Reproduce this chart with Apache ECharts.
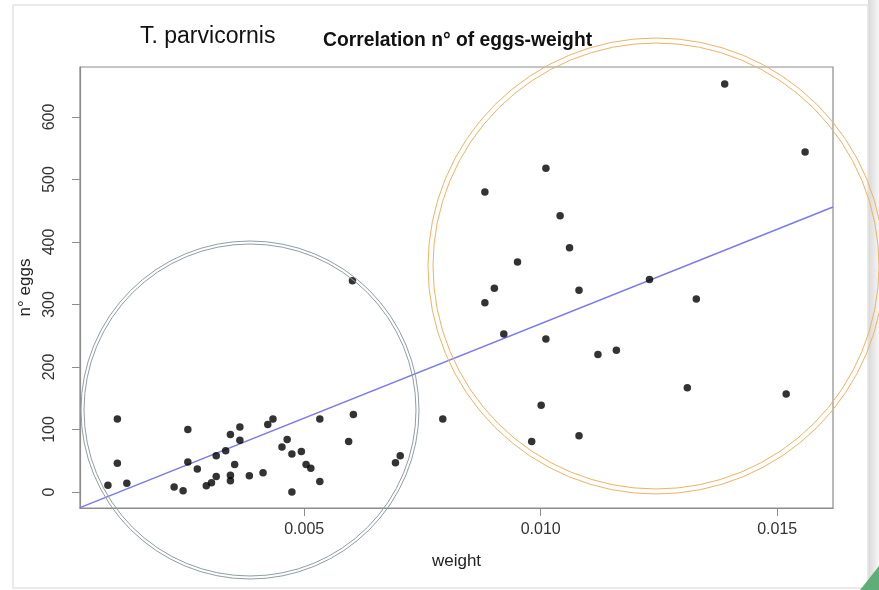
<!DOCTYPE html>
<html><head><meta charset="utf-8">
<script src="https://cdn.jsdelivr.net/npm/echarts@6/dist/echarts.min.js"></script>
<style>html,body{margin:0;padding:0;background:#fff}#c{width:879px;height:590px}</style>
</head><body><div id="c"></div>
<script>
// data
const weight = [0.00105,0.00105,0.00085,0.00125,0.00254,0.00254,0.00225,0.00244,0.00274,0.00293,
  0.00304,0.00314,0.00314,0.00334,0.00344,0.00364,0.00364,0.00353,0.00344,0.00344,
  0.00384,0.00413,0.00423,0.00434,0.00464,0.00453,0.00474,0.00494,0.00504,0.00514,
  0.00474,0.00533,0.00533,0.00604,0.00594,0.00693,0.00703,0.00793,0.00602,
  0.01389,0.01559,0.01011,0.00882,0.01041,0.01061,0.00951,0.00902,0.00882,0.01081,
  0.01230,0.01329,0.00922,0.01011,0.01121,0.01160,0.01310,0.01519,0.01001,0.00981,0.01081];
const eggs = [117,46,11,14,100,48,8,2,37,10,
  15,25,58,66,92,104,83,44,27,18,
  26,31,108,117,84,72,61,65,44,38,
  0,17,117,124,81,47,58,117,338,
  653,544,518,480,442,391,368,326,303,323,
  340,309,253,245,220,227,167,157,139,81,90];
const lineX = [0.00026, 0.01618];
const lineY = [-25, 456];
const xTicks = [0.005, 0.010, 0.015];
const yTicks = [0, 100, 200, 300, 400, 500, 600];

const pts = weight.map((w,i)=>[w, eggs[i]]);
const chart = echarts.init(document.getElementById('c'), null, {renderer:'canvas'});
const F = 'Liberation Sans, Arial, Helvetica, sans-serif';
chart.setOption({
  animation:false,
  backgroundColor:'#fff',
  grid:{left:80, right:46, top:67, bottom:82, show:true, borderColor:'#8c8c8c', borderWidth:1.2, backgroundColor:'transparent'},
  title:[
    {text:'T. parvicornis', left:135, top:20, textStyle:{fontFamily:F, fontSize:23, fontWeight:'normal', color:'#111'}},
    {text:'Correlation n° of eggs-weight', left:318, top:26, textStyle:{fontFamily:F, fontSize:19.3, fontWeight:'bold', color:'#111'}}
  ],
  xAxis:{type:'value', min:0.00026, max:0.01618, name:'weight', nameLocation:'middle', nameGap:45,
    nameTextStyle:{fontFamily:F, fontSize:17, color:'#222'},
    splitLine:{show:false},
    axisLine:{show:true, onZero:false, lineStyle:{color:'#8c8c8c', width:1.2}},
    axisTick:{show:true, customValues:xTicks, length:8, lineStyle:{color:'#8c8c8c'}},
    axisLabel:{customValues:xTicks, formatter:v=>v.toFixed(3), fontFamily:F, fontSize:16, color:'#333', margin:14}
  },
  yAxis:{type:'value', min:-25.6, max:680, name:'n° eggs', nameLocation:'middle', nameGap:38,
    nameTextStyle:{fontFamily:F, fontSize:17, color:'#222'},
    splitLine:{show:false},
    axisLine:{show:true, onZero:false, lineStyle:{color:'#8c8c8c', width:1.2}},
    axisTick:{show:true, customValues:yTicks, length:8, lineStyle:{color:'#8c8c8c'}},
    axisLabel:{customValues:yTicks, rotate:90, fontFamily:F, fontSize:16, color:'#333', margin:22}
  },
  series:[
    {type:'line', data:lineX.map((x,i)=>[x,lineY[i]]), symbol:'none', lineStyle:{color:'#7b7bf0', width:1.6}, z:2},
    {type:'scatter', data:pts, symbolSize:7.5, itemStyle:{color:'#000'}, z:3}
  ],
  graphic:[
    {type:'rect', shape:{x:868,y:0,width:11,height:590}, style:{fill:new echarts.graphic.LinearGradient(0,0,1,0,[{offset:0,color:'#d8d8d8'},{offset:1,color:'#f6f6f6'}])}, z:-1, silent:true},
    {type:'rect', shape:{x:13,y:5,width:855,height:583}, style:{fill:'none', stroke:'#e4e4e4', lineWidth:1.5}, z:-1, silent:true},
    {type:'polygon', shape:{points:[[879,566],[879,590],[860,590]]}, style:{fill:'#5fae7a'}, silent:true},
    {type:'circle', shape:{cx:250, cy:410, r:169}, style:{fill:'none', stroke:'#8e9ea6', lineWidth:1}, silent:true, z:10},
    {type:'circle', shape:{cx:250, cy:410, r:166}, style:{fill:'none', stroke:'#8e9ea6', lineWidth:1}, silent:true, z:10},
    {type:'circle', shape:{cx:656, cy:266, r:228}, style:{fill:'none', stroke:'#f0b25e', lineWidth:1}, silent:true, z:10},
    {type:'circle', shape:{cx:656, cy:266, r:223}, style:{fill:'none', stroke:'#f0b25e', lineWidth:1}, silent:true, z:10}
  ]
});
</script></body></html>
